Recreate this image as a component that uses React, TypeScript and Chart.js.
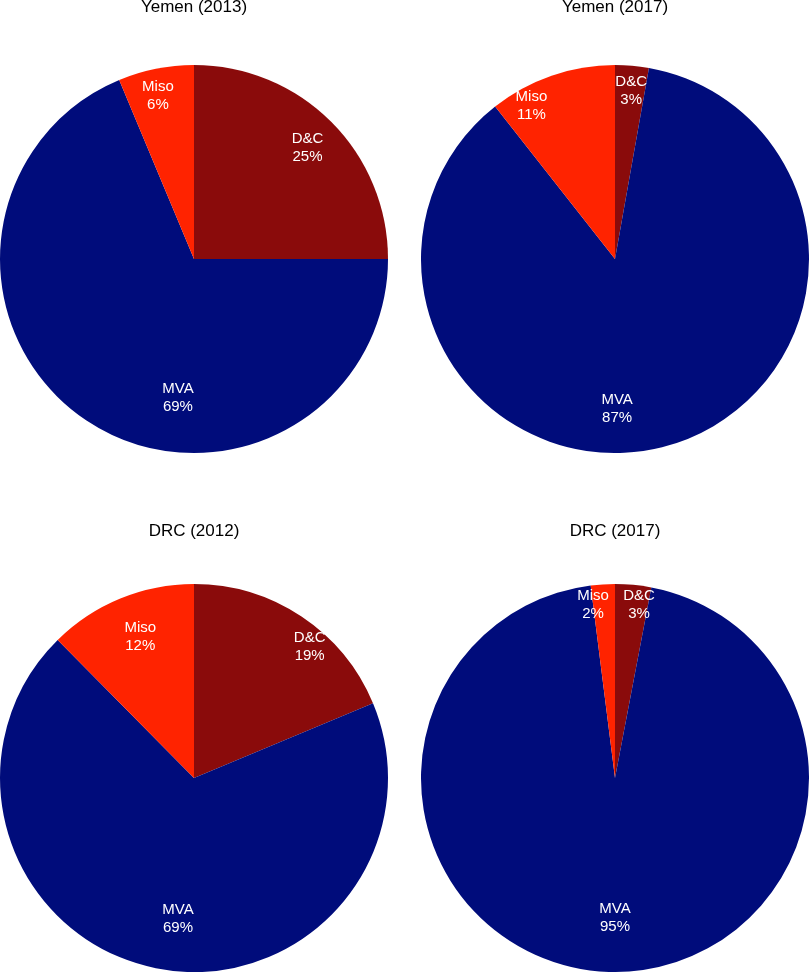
import React, { useEffect, useRef } from "react";
import { Chart, registerables } from "chart.js";

Chart.register(...registerables);

const categories = ["D&C", "MVA", "Miso"];
const colors = ["#8A0B0B", "#000C7B", "#FF2300"];

const titles = ["Yemen (2013)", "Yemen (2017)", "DRC (2012)", "DRC (2017)"];
const yemen2013 = [25.0, 68.7, 6.3];
const yemen2017 = [2.8, 86.6, 10.6];
const drc2012 = [18.7, 68.9, 12.4];
const drc2017 = [3.0, 95.0, 2.0];

// label placement per slice: [angle in degrees clockwise from top, fraction of radius]
const placeYemen2013 = [[45.5, 0.82], [186.6, 0.72], [347.5, 0.86]];
const placeYemen2017 = [[5.5, 0.87], [179.2, 0.77], [331.4, 0.9]];
const placeDrc2012 = [[41.5, 0.9], [186.5, 0.73], [339.2, 0.78]];
const placeDrc2017 = [[7.9, 0.9], [180, 0.72], [352.8, 0.9]];

const sliceLabels = {
  id: "sliceLabels",
  afterDatasetsDraw(chart: any, _args: any, opts: any) {
    const meta = chart.getDatasetMeta(0);
    const ctx = chart.ctx;
    const labels = chart.data.labels;
    const data = chart.data.datasets[0].data as number[];
    const total = data.reduce((a, b) => a + b, 0);
    const placements = opts.placements || [];
    ctx.save();
    ctx.fillStyle = "#ffffff";
    ctx.font = "15px Arial, 'Liberation Sans', sans-serif";
    ctx.textAlign = "center";
    ctx.textBaseline = "middle";
    meta.data.forEach((arc: any, i: number) => {
      const p = arc.getProps(["x", "y", "outerRadius"], true);
      const pl = placements[i] || [((arc.startAngle + arc.endAngle) / 2 + Math.PI / 2) * 180 / Math.PI, 0.8];
      const a = (pl[0] * Math.PI) / 180;
      const px = p.x + Math.sin(a) * pl[1] * p.outerRadius;
      const py = p.y - Math.cos(a) * pl[1] * p.outerRadius;
      const pct = Math.round((data[i] / total) * 100) + "%";
      ctx.fillText(labels[i], px, py - 9);
      ctx.fillText(pct, px, py + 9);
    });
    ctx.restore();
  },
};

type PieProps = {
  title: string;
  values: number[];
  placements: number[][];
  left: number;
  top: number;
  width: number;
  height: number;
  padBottom: number;
};

function PieChart({ title, values, placements, left, top, width, height, padBottom }: PieProps) {
  const ref = useRef<HTMLCanvasElement | null>(null);
  useEffect(() => {
    if (!ref.current) return;
    const chart = new Chart(ref.current, {
      type: "pie",
      data: {
        labels: categories,
        datasets: [
          {
            data: values,
            backgroundColor: colors,
            borderWidth: 0,
          },
        ],
      },
      options: {
        responsive: false,
        animation: false,
        devicePixelRatio: 1,
        layout: { padding: 0 },
        events: [],
        plugins: {
          legend: { display: false },
          tooltip: { enabled: false },
          title: {
            display: true,
            text: title,
            color: "#000000",
            font: { family: "Arial, 'Liberation Sans', sans-serif", size: 17, weight: "normal", lineHeight: 1.2 },
            padding: { top: 0, bottom: padBottom },
          },
          sliceLabels: { placements },
        } as any,
      },
      plugins: [sliceLabels],
    });
    return () => chart.destroy();
  }, []);
  return (
    <canvas
      ref={ref}
      width={width}
      height={height}
      style={{ position: "absolute", left, top, width, height }}
    />
  );
}

export default function App() {
  return (
    <div style={{ position: "fixed", left: 0, top: 0, width: 810, height: 974, background: "#ffffff", overflow: "hidden" }}>
      <PieChart title={titles[0]} values={yemen2013} placements={placeYemen2013} left={0} top={-3} width={388} height={456} padBottom={47.6} />
      <PieChart title={titles[1]} values={yemen2017} placements={placeYemen2017} left={421} top={-3} width={388} height={456} padBottom={47.6} />
      <PieChart title={titles[2]} values={drc2012} placements={placeDrc2012} left={0} top={521} width={388} height={451} padBottom={42.6} />
      <PieChart title={titles[3]} values={drc2017} placements={placeDrc2017} left={421} top={521} width={388} height={451} padBottom={42.6} />
    </div>
  );
}
